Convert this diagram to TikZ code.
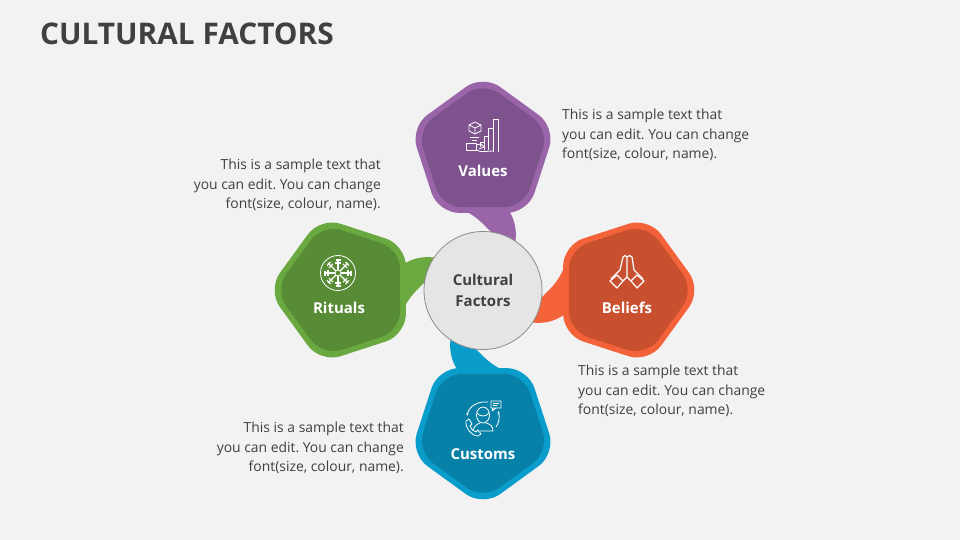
\documentclass[tikz,border=0pt]{standalone}
\usepackage{fontspec}
\setmainfont{Open Sans}
\frenchspacing
\usetikzlibrary{shapes.geometric,arrows.meta}
\definecolor{pagegray}{HTML}{F2F2F2}
\definecolor{inkgray}{HTML}{404040}
\definecolor{valuesout}{HTML}{9A64A9}
\definecolor{valuesin}{HTML}{7D528D}
\definecolor{ritualsout}{HTML}{6AA93F}
\definecolor{ritualsin}{HTML}{578B35}
\definecolor{beliefsout}{HTML}{F4623A}
\definecolor{beliefsin}{HTML}{C8502F}
\definecolor{customsout}{HTML}{0A9CCB}
\definecolor{customsin}{HTML}{0881A8}
\newcommand{\tailshape}[2]{\fill[#1,rotate around={#2:(483,290)}] (458,208) .. controls (475,214) and (483,224) .. (491,232) -- (515,245) .. controls (517,232) and (516,220) .. (507,208) -- cycle;}
\begin{document}
\begin{tikzpicture}[x=1pt,y=-1pt]
	\tikzstyle{outerpent} = [regular polygon,regular polygon sides=5,minimum size=153pt,inner sep=0pt,rounded corners=21pt]
	\tikzstyle{innerpent} = [regular polygon,regular polygon sides=5,minimum size=139pt,inner sep=0pt,rounded corners=20pt]
	\tikzstyle{sample} = [text=inkgray,font=\fontsize{13.9}{19.2}\selectfont]
	\tikzstyle{petal} = [text=white,font=\fontsize{15}{19}\selectfont\bfseries]
	\tikzstyle{icon} = [white,line width=0.8pt,line join=round]
	\fill[pagegray] (0,0) rectangle (960,540);
	\node[anchor=west,text=inkgray,font=\fontsize{29.8}{36}\selectfont\bfseries,inner sep=0pt](title)at(40,34){CULTURAL FACTORS};
	\tailshape{valuesout}{0}
	\tailshape{beliefsout}{-90}
	\tailshape{customsout}{180}
	\tailshape{ritualsout}{90}
	\node[outerpent,fill=valuesout](valuesback)at(483,151){};
	\node[innerpent,fill=valuesin](valuesfront)at(483,151){};
	\node[outerpent,fill=ritualsout,shape border rotate=90](ritualsback)at(344,290){};
	\node[innerpent,fill=ritualsin,shape border rotate=90](ritualsfront)at(344,290){};
	\node[outerpent,fill=beliefsout,shape border rotate=270](beliefsback)at(625,290){};
	\node[innerpent,fill=beliefsin,shape border rotate=270](beliefsfront)at(625,290){};
	\node[outerpent,fill=customsout,shape border rotate=180](customsback)at(483,430){};
	\node[innerpent,fill=customsin,shape border rotate=180](customsfront)at(483,430){};
	\node[circle,minimum size=118pt,inner sep=0pt,fill=black!10,draw=black!45,line width=0.8pt,align=center,text=inkgray,font=\fontsize{15}{21}\selectfont\bfseries](hub)at(483,290.5){Cultural\\Factors};
	\node[petal](values)at(483,170.5){Values};
	\node[petal](rituals)at(339,307.5){Rituals};
	\node[petal](beliefs)at(627,307.5){Beliefs};
	\node[petal](customs)at(483,454.5){Customs};
	\node[sample,anchor=west,align=left,inner sep=0pt](valuestext)at(562,135){This is a sample text that\\you can edit. You can change\\font(size, colour, name).};
	\node[sample,anchor=east,align=right,inner sep=0pt](ritualstext)at(381,185){This is a sample text that\\you can edit. You can change\\font(size, colour, name).};
	\node[sample,anchor=west,align=left,inner sep=0pt](beliefstext)at(578,391){This is a sample text that\\you can edit. You can change\\font(size, colour, name).};
	\node[sample,anchor=east,align=right,inner sep=0pt](customstext)at(404,448){This is a sample text that\\you can edit. You can change\\font(size, colour, name).};
	\draw[icon] (493,152) -- (493,119) -- (498,119) -- (498,152);
	\draw[icon] (493,128) -- (488,128) -- (488,150);
	\draw[icon] (488,136) -- (484,136) -- (484,150);
	\draw[icon] (484,142) -- (480,142) -- (480,147);
	\draw[icon] (475,122) -- (481,125) -- (481,131) -- (475,134) -- (469,131) -- (469,125) -- cycle;
	\draw[icon] (469,125) -- (475,128) -- (481,125) (475,128) -- (475,134);
	\draw[icon] (470,137) -- (479,137) (472,140) -- (477,140);
	\draw[icon] (466,143) rectangle (476,150);
	\draw[icon] (476,145) -- (481,144) -- (484,147) -- (479,149) (476,150) .. controls (482,153) and (486,151) .. (493,151);
	\node[circle,draw=white,minimum size=35pt,inner sep=0pt,line width=0.8pt](ritualsring)at(338,273){};
	\node[circle,draw=white,minimum size=6pt,inner sep=0pt,line width=0.8pt](ritualscore)at(338,273){};
	\foreach \a in {0,45,...,315}{
		\draw[white,line width=1.1pt,rotate around={\a:(338,273)}] (341,273) -- (352,273) (348,270) -- (348,276) (351,270.5) -- (351,275.5);
	}
	\draw[icon,line width=1.2pt] (611,279) -- (620,270) -- (623,257) .. controls (624,255) and (626,255) .. (627,257) -- (627,277) -- (623,281);
	\draw[icon,line width=1.2pt] (643,279) -- (634,270) -- (632,257) .. controls (631,255) and (628,255) .. (627,257);
	\draw[icon,line width=1.2pt] (627,277) -- (631,281);
	\draw[icon,line width=1.2pt] (617,275) -- (623,281) -- (617,288) -- (610,281) -- cycle;
	\draw[icon,line width=1.2pt] (637,275) -- (644,281) -- (637,288) -- (631,281) -- cycle;
	\draw[icon] (491,401) rectangle (501,408) (493,403.5) -- (499,403.5) (493,405.5) -- (497,405.5) (493,408) -- (492,411) -- (496,408);
	\node[ellipse,draw=white,minimum width=13pt,minimum height=16pt,inner sep=0pt,line width=0.8pt](customshead)at(483,415){};
	\draw[icon] (477,413) .. controls (480,417) and (486,417) .. (489,413);
	\draw[icon] (473,431) .. controls (474,425) and (478,424) .. (480,423) (486,423) .. controls (490,424) and (493,426) .. (493,431) -- (480,431);
	\draw[icon] (466,421) -- (469,419) -- (472,424) -- (470,426) .. controls (471,429) and (473,431) .. (476,432) -- (478,430) -- (481,434) -- (478,436) .. controls (472,436) and (465,428) .. (466,421);
	\draw[icon,-{Stealth[length=3pt]}] (488,402) .. controls (478,401) and (469,406) .. (467,416);
	\draw[icon,-{Stealth[length=3pt]}] (496,427) .. controls (499,423) and (500,417) .. (498,411);
\end{tikzpicture}
\end{document}
